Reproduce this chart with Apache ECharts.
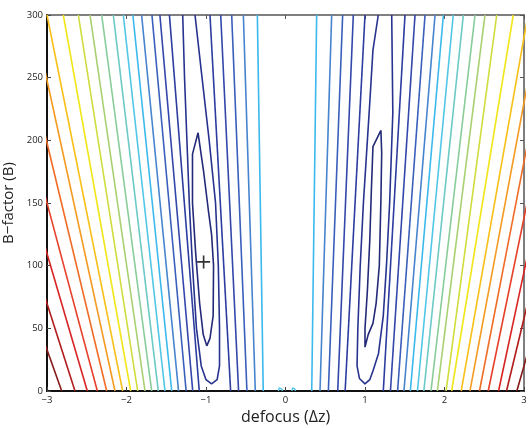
<!DOCTYPE html>
<html><head><meta charset="utf-8">
<script src="https://cdn.jsdelivr.net/npm/echarts@6/dist/echarts.min.js"></script>
<style>html,body{margin:0;padding:0;background:#fff}#c{width:530px;height:428px}</style>
</head><body><div id="c"></div>
<script>
// axis ticks
const xTicks = [-3, -2, -1, 0, 1, 2, 3];
const yTicks = [0, 50, 100, 150, 200, 250, 300];
// contour colours, level 1 (lowest) .. level 20 (highest)
const levelColors = ['#232a78','#27338e','#2d3c9f','#3347ab','#3a5fbb','#4684cd','#3cb9ec','#52c6e6','#6cc9c6','#88cc98',
                     '#a8d070','#cfdc3c','#f2e61a','#f8c01a','#f59a22','#ef6c26','#e6402a','#d82424','#b01c1c','#861a1a'];
// left flank of left valley: x at B=0 and at B=300, levels 3..20
const leftFlankLevels = [3,4,5,6,7,8,9,10,11,12,13,14,15,16,17,18,19,20];
const leftFlankBottom = [-1.085,-1.167,-1.25,-1.345,-1.431,-1.516,-1.60,-1.683,-1.767,-1.859,-1.947,-2.048,-2.145,-2.249,-2.367,-2.493,-2.648,-2.815];
const leftFlankTop    = [-1.46,-1.58,-1.68,-1.81,-1.92,-2.04,-2.166,-2.312,-2.459,-2.606,-2.795,-3.0,-3.18,-3.387,-3.633,-3.88,-4.16,-4.5];
// right flank of right valley, levels 3..20
const rightFlankLevels = [3,4,5,6,7,8,9,10,11,12,13,14,15,16,17,18,19,20];
const rightFlankBottom = [1.23,1.32,1.41,1.49,1.57,1.66,1.74,1.83,1.91,2.02,2.09,2.21,2.32,2.44,2.55,2.68,2.78,2.91];
const rightFlankTop    = [1.503,1.629,1.755,1.881,1.986,2.11,2.237,2.384,2.509,2.657,2.865,3.05,3.207,3.358,3.528,3.69,3.918,4.26];
// inner flank of left valley (towards the centre), levels 3..7
const midLeftLevels = [3,4,5,6,7];
const midLeftBottom = [-0.69,-0.59,-0.485,-0.38,-0.28];
const midLeftTop    = [-0.95,-0.815,-0.677,-0.53,-0.354];
// inner flank of right valley (towards the centre), levels 3..7
const midRightLevels = [3,4,5,6,7];
const midRightBottom = [0.75,0.657,0.539,0.434,0.33];
const midRightTop    = [1.0,0.853,0.719,0.581,0.392];
// closed / open contours around the two minima
const leftLevel1 = [[-1.10,206],[-1.17,189],[-1.17,150],[-1.13,110],[-1.08,70],[-1.035,45],[-0.99,36],[-0.95,42],[-0.91,60],[-0.905,100],[-0.93,125],[-0.97,144],[-1.03,175],[-1.10,206]];
const leftLevel2 = [[-1.293,300],[-1.27,250],[-1.24,200],[-1.21,150],[-1.17,100],[-1.12,50],[-1.06,20],[-1.0,9],[-0.93,5.7],[-0.86,9],[-0.83,20],[-0.83,50],[-0.845,100],[-0.88,150],[-0.96,200],[-1.05,250],[-1.138,300]];
const rightLevel1 = [[1.20,208],[1.10,195],[1.08,160],[1.06,120],[1.03,80],[1.0,50],[1.0,35],[1.04,45],[1.10,54],[1.14,70],[1.18,100],[1.20,152],[1.21,190],[1.20,208]];
const rightLevel2 = [[1.167,300],[1.10,272],[1.06,230],[1.03,200],[0.98,150],[0.94,100],[0.91,50],[0.90,20],[0.93,10],[1.0,5.7],[1.06,9],[1.10,16],[1.17,30],[1.23,60],[1.27,100],[1.31,150],[1.35,222],[1.336,300]];
const centreSpecks = [[[-0.09,0],[-0.08,2.5],[-0.06,3],[-0.045,1.5],[-0.04,0]], [[0.08,0],[0.09,2.5],[0.105,3.5],[0.12,1.5],[0.125,0]]];
const minimumMark = [[-1.03, 103]];

const series = [];
function addLine(level, pts, w) {
  series.push({type:'line', data: pts, showSymbol:false, symbol:'none', clip:true, silent:true,
    lineStyle:{color: levelColors[level-1], width: w || 1.6}, z: 2});
}
leftFlankLevels.forEach((lv,i)=>addLine(lv, [[leftFlankBottom[i],0],[leftFlankTop[i],300]]));
rightFlankLevels.forEach((lv,i)=>addLine(lv, [[rightFlankBottom[i],0],[rightFlankTop[i],300]]));
midLeftLevels.forEach((lv,i)=>addLine(lv, [[midLeftBottom[i],0],[midLeftTop[i],300]]));
midRightLevels.forEach((lv,i)=>addLine(lv, [[midRightBottom[i],0],[midRightTop[i],300]]));
addLine(1, leftLevel1); addLine(2, leftLevel2);
addLine(1, rightLevel1); addLine(2, rightLevel2);
centreSpecks.forEach(p=>addLine(8, p, 1.4));
series.push({type:'scatter', data: minimumMark, symbol:'path://M5.25,0h1.5v5.25h5.25v1.5h-5.25v5.25h-1.5v-5.25h-5.25v-1.5h5.25z', symbolSize:13,
  itemStyle:{color:'#000'}, z:5, silent:true});

const fmt = v => (v < 0 ? '\u2212' + Math.abs(v) : String(v));
const font = 'Open Sans, Noto Sans, sans-serif';
const chart = echarts.init(document.getElementById('c'), null, {renderer:'canvas'});
chart.setOption({
  animation:false,
  backgroundColor:'#fff',
  grid:{left:47, right:6, top:15, bottom:37, containLabel:false, outerBoundsMode:'none'},
  xAxis:[{type:'value', min:xTicks[0], max:xTicks[xTicks.length-1], interval:1, position:'bottom',
      axisLine:{show:true, onZero:false, lineStyle:{color:'#111', width:2}},
      axisTick:{show:true, inside:true, length:4, lineStyle:{color:'#444'}},
      axisLabel:{formatter:fmt, fontSize:9.5, color:'#222', margin:4, fontFamily:font},
      splitLine:{show:false},
      name:'defocus (\u0394z)', nameLocation:'middle', nameGap:15,
      nameTextStyle:{fontSize:16, color:'#222', fontFamily:font}},
    {type:'value', min:xTicks[0], max:xTicks[xTicks.length-1], interval:1, position:'top',
      axisLine:{show:true, onZero:false, lineStyle:{color:'#555', width:1.5}},
      axisTick:{show:true, inside:true, length:4, lineStyle:{color:'#555'}},
      axisLabel:{show:false}, splitLine:{show:false}}],
  yAxis:[{type:'value', min:yTicks[0], max:yTicks[yTicks.length-1], interval:50, position:'left',
      axisLine:{show:true, onZero:false, lineStyle:{color:'#111', width:2}},
      axisTick:{show:true, inside:true, length:4, lineStyle:{color:'#444'}},
      axisLabel:{fontSize:9.5, color:'#222', margin:4, fontFamily:font},
      splitLine:{show:false},
      name:'B\u2212factor (B)', nameLocation:'middle', nameGap:27,
      nameTextStyle:{fontSize:15, color:'#222', fontFamily:font}},
    {type:'value', min:yTicks[0], max:yTicks[yTicks.length-1], interval:50, position:'right',
      axisLine:{show:true, onZero:false, lineStyle:{color:'#555', width:1.5}},
      axisTick:{show:true, inside:true, length:4, lineStyle:{color:'#555'}},
      axisLabel:{show:false}, splitLine:{show:false}}],
  series: series
});
</script></body></html>
